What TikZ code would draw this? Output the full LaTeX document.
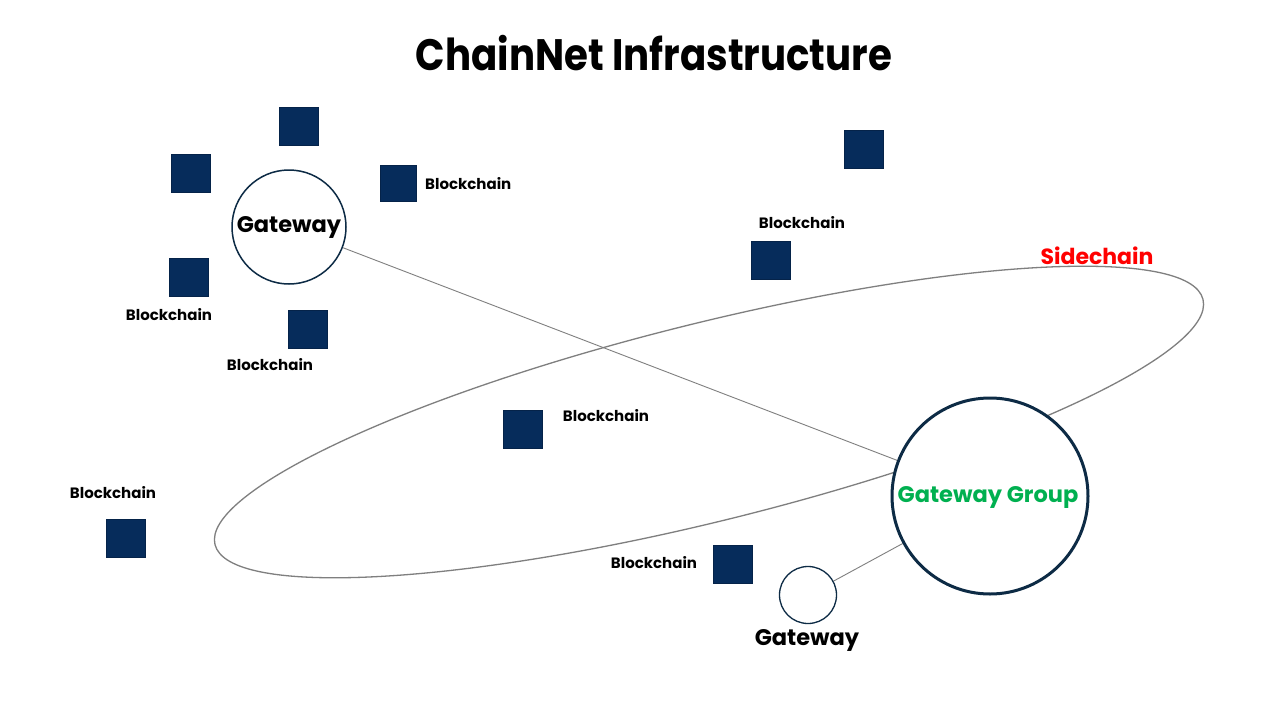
\documentclass[tikz,border=0pt]{standalone}
\usepackage{fontspec}
\setmainfont{Poppins}
\usetikzlibrary{backgrounds}
\definecolor{navy}{HTML}{062C5B}
\definecolor{ring}{HTML}{0D2B45}
\definecolor{conn}{HTML}{7F7F7F}
\definecolor{grp}{HTML}{00B050}
\definecolor{side}{HTML}{FF0000}
\begin{document}
\begin{tikzpicture}[x=1pt,y=-1pt,
  blk/.style={draw=navy!80!black,fill=navy,minimum width=39pt,minimum height=38pt,inner sep=0pt,line width=0.6pt},
  lbl/.style={font=\fontsize{15}{18}\selectfont\bfseries,inner sep=0pt},
  gwtext/.style={font=\fontsize{22.5}{26}\selectfont\bfseries,inner sep=0pt},
  link/.style={draw=conn,line width=0.9pt},
  gw/.style={circle,draw=ring,fill=white,inner sep=0pt,line width=1.5pt}]
\useasboundingbox (0,0) rectangle (1280,720);
\node[font=\fontsize{44}{50}\selectfont\bfseries,inner sep=0pt] (title) at (654,53) {\scalebox{0.88}[1]{ChainNet Infrastructure}};
% gateways
\node[gw,minimum size=114pt] (g1) at (289,227) {};
\node[gwtext] (g1t) at (289,227) {Gateway};
\node[gw,minimum size=196pt,line width=3pt] (gg) at (990,496) {};
\node[gwtext,text=grp] (ggt) at (988,497) {Gateway Group};
\node[gw,minimum size=57pt,line width=1.3pt] (g2) at (808,595) {};
\node[gwtext] (g2t) at (807,640) {Gateway};
\node[lbl,text=side,font=\fontsize{22}{26}\selectfont\bfseries] (sc) at (1097,256) {Sidechain};
\begin{pgfonlayer}{background}
\fill[white] (0,0) rectangle (1280,720);
\draw[conn,line width=1.3pt,rotate around={13.94:(709,422)}] (709,422) ellipse [x radius=509, y radius=99];
\draw[link] (g1) -- (gg);
\draw[link] (g2) -- (gg);
\end{pgfonlayer}
% blockchains
\node[blk] (b1) at (299,126) {};
\node[blk] (b2) at (191,173) {};
\node[blk,minimum width=36pt,minimum height=36pt] (b3) at (398,183) {};
\node[lbl,anchor=west] (l3) at (425,184) {Blockchain};
\node[blk] (b4) at (189,277) {};
\node[lbl] (l4) at (169,315) {Blockchain};
\node[blk] (b5) at (308,329) {};
\node[lbl] (l5) at (270,365) {Blockchain};
\node[blk] (b6) at (864,149) {};
\node[blk] (b7) at (771,260) {};
\node[lbl] (l7) at (802,223) {Blockchain};
\node[blk] (b8) at (523,429) {};
\node[lbl] (l8) at (606,416) {Blockchain};
\node[blk] (b9) at (126,538) {};
\node[lbl] (l9) at (113,493) {Blockchain};
\node[blk] (b10) at (733,564) {};
\node[lbl] (l10) at (654,563) {Blockchain};
\end{tikzpicture}
\end{document}
